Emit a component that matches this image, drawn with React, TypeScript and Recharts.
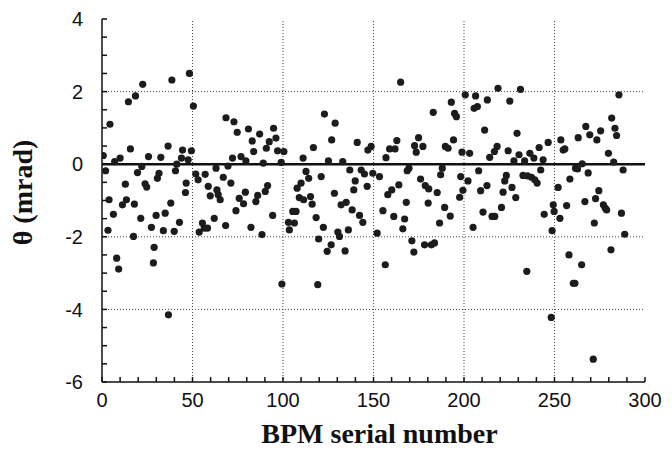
import { ScatterChart, Scatter, XAxis, YAxis, ReferenceLine } from "recharts";

const bpm = [
  0.7, 2.0, 3.3, 3.9, 4.4, 6.3, 7.0, 8.1, 9.2, 10.0, 11.3, 12.9, 13.5, 14.6, 15.7, 17.4, 17.9, 18.5, 19.6, 21.4,
  22.0, 22.5, 23.8, 24.7, 25.7, 27.3, 28.4, 28.8, 29.9, 30.6, 31.5, 32.5, 33.9, 34.9, 36.5, 36.7, 38.0, 38.6, 39.9, 40.6,
  41.3, 42.8, 43.9, 44.5, 46.1, 46.5, 47.6, 48.3, 49.4, 50.5,
  51.8, 53.1, 53.7, 55.5, 56.5, 57.0, 58.3, 58.7, 59.8, 62.0, 63.0, 63.5, 64.2, 65.3, 67.0, 68.3, 68.5, 69.6, 71.2, 72.1,
  72.9, 74.0, 74.7, 75.8, 76.8, 78.2, 79.2, 79.5, 80.9, 82.3, 83.0, 83.8, 85.0, 86.0, 87.1, 88.4, 89.1, 90.2, 90.8, 91.5,
  92.4, 94.3, 94.8, 96.1, 97.0, 99.0, 99.4, 100.5,
  103.0, 103.5, 105.4, 106.3, 107.2, 107.8, 109.0, 110.0, 111.1, 111.4, 112.7, 114.2, 115.2, 116.1, 116.8, 118.3, 119.2, 119.7, 121.1, 122.3,
  122.9, 124.4, 125.1, 126.6, 126.9, 128.4, 128.8, 130.3, 131.2, 132.1, 133.0, 134.3, 134.9, 136.1, 136.9, 138.2, 139.1, 139.9, 141.0, 142.3,
  143.2, 144.1, 145.0, 146.5, 146.9, 148.7, 149.6,
  152.0, 153.3, 155.2, 156.5, 156.9, 157.9, 158.9, 160.1, 161.2, 161.9, 162.9, 164.0, 165.0, 166.2, 167.2, 168.1, 168.6, 169.6, 171.2, 172.3,
  172.7, 173.6, 174.9, 176.0, 177.3, 178.2, 178.6, 180.2, 180.5, 182.0, 183.0, 183.7, 185.2, 186.5, 187.1, 188.0, 189.3, 189.7, 191.2, 192.4,
  193.0, 194.2, 194.8, 195.8, 197.6, 198.2, 198.9, 199.4,
  200.7, 202.2, 203.1, 205.0, 205.6, 206.4, 207.4, 208.1, 209.2, 210.5, 211.4, 212.7, 212.9, 214.2, 215.5, 217.0, 216.8, 218.3, 218.8, 220.7,
  221.6, 222.5, 223.4, 224.4, 225.3, 226.5, 227.6, 228.6, 229.3, 230.4, 231.2, 232.6, 233.5, 234.7, 235.1, 236.4, 237.3, 238.6, 239.1, 240.4,
  241.5, 242.4, 243.7, 244.3, 246.5, 248.2, 248.7, 249.3, 249.8,
  252.0, 253.0, 253.5, 254.8, 255.7, 256.7, 258.0, 258.5, 260.4, 261.3, 261.6, 262.7, 263.1, 265.0, 265.3, 266.8, 267.3, 268.6, 269.5, 271.4,
  272.0, 272.7, 273.4, 274.5, 275.5, 277.0, 278.0, 278.8, 279.8, 281.2, 281.6, 282.7, 283.4, 284.3, 285.6, 287.0, 287.9, 288.8,
];

const theta = [
  0.24, -0.18, -1.82, -0.98, 1.10, -1.38, 0.07, -2.59, -2.89, 0.17, -1.12, -0.55, -0.98, 1.72, 0.42, -1.99, -1.10, 1.88, -0.23, -1.49,
  -0.06, 2.20, -0.54, -0.63, 0.21, -1.74, -2.72, -2.29, -1.41, -0.39, -0.25, 0.19, -1.83, -1.35, 0.50, -4.15, -1.07, 2.32, -1.85, -0.18,
  0.00, -1.60, 0.17, 0.39, -0.78, -0.52, 0.12, 2.50, 0.37, 1.60,
  -0.27, -0.43, -1.87, -1.62, -1.76, -0.28, -1.76, -0.61, -0.87, -1.49, -0.11, -0.71, -0.84, -0.98, -0.36, -1.69, 1.28, -0.05, -0.52, 0.17,
  1.17, -1.28, 0.88, -0.94, 0.21, -1.09, -0.77, 0.09, 0.97, -1.74, 0.64, 0.35, -1.03, -0.86, 0.83, -1.94, 0.03, -0.75, 0.44, -0.59,
  0.62, -1.41, 0.99, 0.72, 0.37, 0.05, -3.30, 0.35,
  -1.60, -1.81, -1.30, -1.62, -1.30, -0.66, -0.92, -0.52, 0.17, -0.98, -0.20, -0.39, -0.89, -1.10, 0.46, -1.47, -3.32, -2.06, -0.34, -1.74,
  1.38, -2.40, 0.09, -2.22, 0.67, -0.80, 1.13, -1.87, -1.99, -1.12, 0.07, -2.39, -1.05, -1.81, -0.16, -1.26, -0.71, -0.46, 0.60, -1.41,
  -0.16, -1.60, -0.27, -0.61, 0.39, 0.49, -0.25,
  -1.90, -0.34, -1.28, -2.77, 0.18, -0.84, 0.42, -0.71, -1.44, 0.42, 0.65, -0.57, 2.26, -1.78, -1.51, -1.05, -0.18, -0.11, -2.11, -2.42,
  0.51, 0.33, 0.73, -0.41, 0.49, -2.22, -0.59, -1.07, -0.68, -2.22, 1.43, -2.17, -0.78, -1.62, -0.29, -0.11, -1.19, 0.49, 0.44, -1.43,
  1.71, 0.67, 1.40, 1.31, -0.91, -0.34, 0.33, -0.72,
  1.91, -0.46, 0.30, -1.74, 1.54, 1.88, 1.59, -0.18, -0.73, -1.32, 0.94, -0.59, 1.77, 0.19, -1.44, -1.44, 0.35, 0.49, 2.09, -1.19,
  -0.77, -0.46, -0.31, 0.37, 1.74, -0.64, 0.09, -0.92, 0.85, 0.26, 2.06, -0.31, 0.09, -2.95, -0.32, 0.30, -0.36, 0.17, -0.43, -0.52,
  0.46, -0.16, 0.12, -1.38, 0.60, -4.22, -1.83, -1.12, -1.30,
  -0.64, -1.49, 0.67, 0.39, 0.42, -1.14, -2.50, -0.41, -3.28, -3.28, -0.11, -0.13, 0.73, -2.77, 0.01, -1.03, 1.04, -0.24, 0.81, -5.37,
  -1.62, -0.95, 0.67, -0.73, 0.92, -1.12, -1.21, -1.26, 0.30, -2.36, 1.27, 0.06, 0.99, 0.79, 1.91, -1.35, -0.16, -1.93,
];

const xTicks = [0, 10, 20, 30, 40, 50, 60, 70, 80, 90, 100, 110, 120, 130, 140, 150, 160, 170, 180, 190, 200, 210, 220, 230, 240, 250, 260, 270, 280, 290, 300];
const yTicks = [-6, -5.5, -5, -4.5, -4, -3.5, -3, -2.5, -2, -1.5, -1, -0.5, 0, 0.5, 1, 1.5, 2, 2.5, 3, 3.5, 4];
const xGrid = [50, 100, 150, 200, 250];
const yGrid = [2, -2, -4];

const data = bpm.map((b, i) => ({ bpm: b, theta: theta[i] }));

const tickFont = { fontSize: 20, fill: "#111", fontFamily: "Liberation Sans, Arial, sans-serif" };
const titleFont = { fontSize: 28, fontWeight: 700, fill: "#111", fontFamily: "Liberation Serif, Times New Roman, serif" };

const Dot = (p: any) => <circle cx={p.cx} cy={p.cy} r={3.6} fill="#1c1c1c" />;

export default function App() {
  return (
    <div style={{ width: 656, height: 444, background: "#fff" }}>
      <ScatterChart width={656} height={444} margin={{ top: 11, right: 19, left: 0, bottom: 8 }}>
        <XAxis
          dataKey="bpm" type="number" domain={[0, 300]} ticks={xTicks} interval={0} allowDataOverflow height={62}
          tickSize={-5} tickMargin={16} stroke="#111" strokeWidth={1.5} tick={tickFont}
          tickFormatter={(v) => (v % 50 === 0 ? String(v) : "")}
          label={{ value: "BPM serial number", position: "insideBottom", offset: 1, dx: 6, style: titleFont }}
        />
        <XAxis
          xAxisId="top" orientation="top" type="number" domain={[0, 300]} ticks={xTicks} interval={0} allowDataOverflow height={0}
          tickSize={-5} tick={false} stroke="#111" strokeWidth={1.5}
        />
        <YAxis
          dataKey="theta" type="number" domain={[-6, 4]} ticks={yTicks} interval={0} allowDataOverflow width={94}
          tickSize={-5} tickMargin={24} stroke="#111" strokeWidth={1.5} tick={tickFont}
          tickFormatter={(v) => (Number.isInteger(v) && v % 2 === 0 ? String(v) : "")}
          label={{ value: "θ (mrad)", angle: -90, position: "center", dx: -33, dy: -8, style: titleFont }}
        />
        <YAxis
          yAxisId="right" orientation="right" type="number" domain={[-6, 4]} ticks={yTicks} interval={0} allowDataOverflow width={0}
          tickSize={-5} tick={false} stroke="#111" strokeWidth={1.5}
        />
        {xGrid.map((g) => (
          <ReferenceLine key={"x" + g} x={g} stroke="#444" strokeDasharray="1 2" />
        ))}
        {yGrid.map((g) => (
          <ReferenceLine key={"y" + g} y={g} stroke="#444" strokeDasharray="1 2" />
        ))}
        <ReferenceLine y={0} stroke="#111" strokeWidth={2.5} />
        <Scatter data={data} shape={Dot} isAnimationActive={false} />
      </ScatterChart>
    </div>
  );
}
